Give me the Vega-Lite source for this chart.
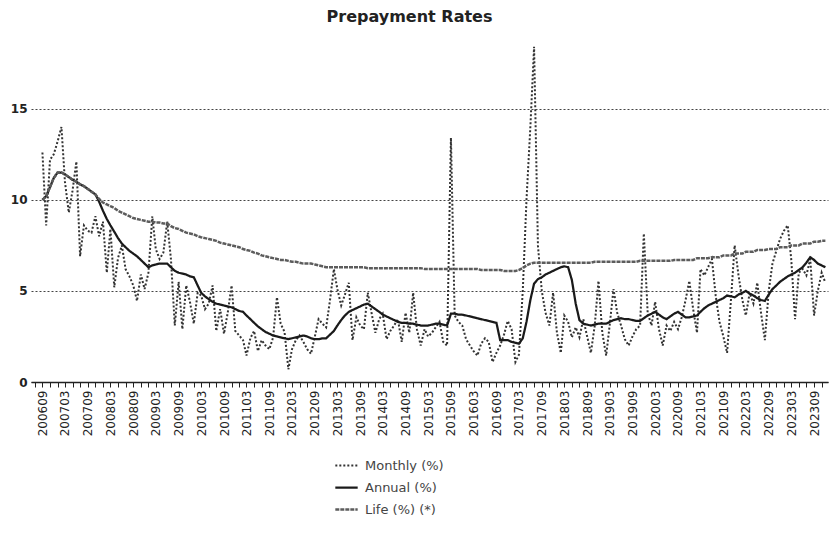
{
"$schema": "https://vega.github.io/schema/vega-lite/v6.json",
"width": 797, "height": 337,
"padding": {"left": 10, "top": 8, "right": 0, "bottom": 0},
"background": "white",
"title": {"text": "Prepayment Rates", "font": "DejaVu Sans", "fontSize": 16, "fontWeight": "bold", "color": "#222", "anchor": "middle", "frame": "group", "offset": 18, "dx": -20},
"data": {"values": [
{"d":"2006-09-01","m":12.6,"a":10.0,"l":10.0},
{"d":"2006-10-01","m":8.6,"a":10.2,"l":10.2},
{"d":"2006-11-01","m":12.2,"a":10.7,"l":10.7},
{"d":"2006-12-01","m":12.5,"a":11.2,"l":11.2},
{"d":"2007-01-01","m":13.2,"a":11.5,"l":11.5},
{"d":"2007-02-01","m":14.0,"a":11.5,"l":11.5},
{"d":"2007-03-01","m":11.0,"a":11.4,"l":11.4},
{"d":"2007-04-01","m":9.3,"a":11.25,"l":11.25},
{"d":"2007-05-01","m":10.5,"a":11.1,"l":11.1},
{"d":"2007-06-01","m":12.1,"a":11.0,"l":11.0},
{"d":"2007-07-01","m":6.9,"a":10.85,"l":10.85},
{"d":"2007-08-01","m":8.6,"a":10.75,"l":10.75},
{"d":"2007-09-01","m":8.3,"a":10.6,"l":10.6},
{"d":"2007-10-01","m":8.2,"a":10.45,"l":10.45},
{"d":"2007-11-01","m":9.1,"a":10.3,"l":10.3},
{"d":"2007-12-01","m":8.0,"a":9.9,"l":10.05},
{"d":"2008-01-01","m":8.8,"a":9.4,"l":9.85},
{"d":"2008-02-01","m":6.0,"a":8.95,"l":9.75},
{"d":"2008-03-01","m":8.4,"a":8.6,"l":9.65},
{"d":"2008-04-01","m":5.2,"a":8.25,"l":9.55},
{"d":"2008-05-01","m":6.8,"a":7.9,"l":9.4},
{"d":"2008-06-01","m":7.5,"a":7.6,"l":9.3},
{"d":"2008-07-01","m":6.2,"a":7.4,"l":9.2},
{"d":"2008-08-01","m":5.8,"a":7.2,"l":9.1},
{"d":"2008-09-01","m":5.3,"a":7.05,"l":9.0},
{"d":"2008-10-01","m":4.45,"a":6.9,"l":8.95},
{"d":"2008-11-01","m":5.9,"a":6.7,"l":8.9},
{"d":"2008-12-01","m":5.1,"a":6.5,"l":8.85},
{"d":"2009-01-01","m":6.0,"a":6.3,"l":8.8},
{"d":"2009-02-01","m":9.1,"a":6.4,"l":8.8},
{"d":"2009-03-01","m":7.3,"a":6.45,"l":8.75},
{"d":"2009-04-01","m":6.75,"a":6.5,"l":8.75},
{"d":"2009-05-01","m":7.1,"a":6.5,"l":8.7},
{"d":"2009-06-01","m":8.8,"a":6.5,"l":8.7},
{"d":"2009-07-01","m":6.75,"a":6.3,"l":8.55},
{"d":"2009-08-01","m":3.1,"a":6.1,"l":8.45},
{"d":"2009-09-01","m":5.5,"a":6.0,"l":8.4},
{"d":"2009-10-01","m":2.9,"a":5.95,"l":8.3},
{"d":"2009-11-01","m":5.3,"a":5.9,"l":8.2},
{"d":"2009-12-01","m":4.4,"a":5.8,"l":8.15},
{"d":"2010-01-01","m":3.2,"a":5.75,"l":8.1},
{"d":"2010-02-01","m":4.9,"a":5.3,"l":8.0},
{"d":"2010-03-01","m":4.75,"a":4.9,"l":7.95},
{"d":"2010-04-01","m":4.0,"a":4.7,"l":7.9},
{"d":"2010-05-01","m":4.3,"a":4.55,"l":7.85},
{"d":"2010-06-01","m":5.3,"a":4.4,"l":7.8},
{"d":"2010-07-01","m":2.8,"a":4.3,"l":7.75},
{"d":"2010-08-01","m":4.0,"a":4.25,"l":7.65},
{"d":"2010-09-01","m":2.65,"a":4.2,"l":7.6},
{"d":"2010-10-01","m":3.8,"a":4.15,"l":7.55},
{"d":"2010-11-01","m":5.3,"a":4.1,"l":7.5},
{"d":"2010-12-01","m":2.8,"a":4.0,"l":7.45},
{"d":"2011-01-01","m":2.55,"a":3.9,"l":7.4},
{"d":"2011-02-01","m":2.3,"a":3.85,"l":7.3},
{"d":"2011-03-01","m":1.45,"a":3.65,"l":7.25},
{"d":"2011-04-01","m":2.4,"a":3.45,"l":7.2},
{"d":"2011-05-01","m":2.8,"a":3.25,"l":7.1},
{"d":"2011-06-01","m":1.7,"a":3.05,"l":7.05},
{"d":"2011-07-01","m":2.3,"a":2.9,"l":6.95},
{"d":"2011-08-01","m":2.0,"a":2.75,"l":6.9},
{"d":"2011-09-01","m":1.8,"a":2.65,"l":6.85},
{"d":"2011-10-01","m":2.45,"a":2.55,"l":6.8},
{"d":"2011-11-01","m":4.65,"a":2.5,"l":6.75},
{"d":"2011-12-01","m":3.2,"a":2.45,"l":6.7},
{"d":"2012-01-01","m":2.75,"a":2.4,"l":6.7},
{"d":"2012-02-01","m":0.7,"a":2.35,"l":6.65},
{"d":"2012-03-01","m":1.8,"a":2.4,"l":6.6},
{"d":"2012-04-01","m":2.3,"a":2.45,"l":6.6},
{"d":"2012-05-01","m":2.55,"a":2.5,"l":6.55},
{"d":"2012-06-01","m":2.2,"a":2.55,"l":6.5},
{"d":"2012-07-01","m":1.8,"a":2.5,"l":6.5},
{"d":"2012-08-01","m":1.55,"a":2.4,"l":6.5},
{"d":"2012-09-01","m":2.5,"a":2.35,"l":6.45},
{"d":"2012-10-01","m":3.45,"a":2.35,"l":6.4},
{"d":"2012-11-01","m":3.2,"a":2.4,"l":6.35},
{"d":"2012-12-01","m":3.0,"a":2.4,"l":6.3},
{"d":"2013-01-01","m":4.5,"a":2.6,"l":6.3},
{"d":"2013-02-01","m":6.2,"a":2.8,"l":6.3},
{"d":"2013-03-01","m":5.1,"a":3.1,"l":6.3},
{"d":"2013-04-01","m":4.2,"a":3.4,"l":6.3},
{"d":"2013-05-01","m":4.8,"a":3.65,"l":6.3},
{"d":"2013-06-01","m":5.45,"a":3.85,"l":6.3},
{"d":"2013-07-01","m":2.3,"a":3.95,"l":6.3},
{"d":"2013-08-01","m":3.55,"a":4.05,"l":6.3},
{"d":"2013-09-01","m":3.1,"a":4.15,"l":6.3},
{"d":"2013-10-01","m":2.9,"a":4.25,"l":6.3},
{"d":"2013-11-01","m":4.9,"a":4.3,"l":6.25},
{"d":"2013-12-01","m":3.8,"a":4.15,"l":6.25},
{"d":"2014-01-01","m":2.7,"a":4.0,"l":6.25},
{"d":"2014-02-01","m":3.45,"a":3.85,"l":6.25},
{"d":"2014-03-01","m":3.75,"a":3.7,"l":6.25},
{"d":"2014-04-01","m":2.35,"a":3.6,"l":6.25},
{"d":"2014-05-01","m":2.8,"a":3.5,"l":6.25},
{"d":"2014-06-01","m":3.1,"a":3.4,"l":6.25},
{"d":"2014-07-01","m":3.45,"a":3.3,"l":6.25},
{"d":"2014-08-01","m":2.2,"a":3.25,"l":6.25},
{"d":"2014-09-01","m":3.8,"a":3.25,"l":6.25},
{"d":"2014-10-01","m":2.7,"a":3.2,"l":6.25},
{"d":"2014-11-01","m":4.9,"a":3.2,"l":6.25},
{"d":"2014-12-01","m":2.9,"a":3.15,"l":6.25},
{"d":"2015-01-01","m":2.0,"a":3.1,"l":6.25},
{"d":"2015-02-01","m":2.9,"a":3.1,"l":6.2},
{"d":"2015-03-01","m":2.5,"a":3.1,"l":6.2},
{"d":"2015-04-01","m":2.7,"a":3.15,"l":6.2},
{"d":"2015-05-01","m":3.0,"a":3.2,"l":6.2},
{"d":"2015-06-01","m":3.3,"a":3.2,"l":6.2},
{"d":"2015-07-01","m":2.2,"a":3.15,"l":6.2},
{"d":"2015-08-01","m":2.0,"a":3.1,"l":6.2},
{"d":"2015-09-01","m":13.4,"a":3.75,"l":6.2},
{"d":"2015-10-01","m":3.65,"a":3.75,"l":6.2},
{"d":"2015-11-01","m":3.3,"a":3.7,"l":6.2},
{"d":"2015-12-01","m":3.1,"a":3.7,"l":6.2},
{"d":"2016-01-01","m":2.35,"a":3.65,"l":6.2},
{"d":"2016-02-01","m":2.0,"a":3.6,"l":6.2},
{"d":"2016-03-01","m":1.7,"a":3.55,"l":6.2},
{"d":"2016-04-01","m":1.45,"a":3.5,"l":6.2},
{"d":"2016-05-01","m":2.1,"a":3.45,"l":6.15},
{"d":"2016-06-01","m":2.4,"a":3.4,"l":6.15},
{"d":"2016-07-01","m":2.2,"a":3.35,"l":6.15},
{"d":"2016-08-01","m":1.1,"a":3.3,"l":6.15},
{"d":"2016-09-01","m":1.6,"a":3.25,"l":6.15},
{"d":"2016-10-01","m":2.0,"a":2.3,"l":6.15},
{"d":"2016-11-01","m":2.6,"a":2.3,"l":6.1},
{"d":"2016-12-01","m":3.35,"a":2.3,"l":6.1},
{"d":"2017-01-01","m":2.9,"a":2.2,"l":6.1},
{"d":"2017-02-01","m":1.1,"a":2.15,"l":6.1},
{"d":"2017-03-01","m":1.5,"a":2.1,"l":6.15},
{"d":"2017-04-01","m":5.0,"a":2.4,"l":6.25},
{"d":"2017-05-01","m":10.0,"a":3.3,"l":6.4},
{"d":"2017-06-01","m":14.0,"a":4.5,"l":6.5},
{"d":"2017-07-01","m":18.4,"a":5.4,"l":6.55},
{"d":"2017-08-01","m":7.5,"a":5.65,"l":6.55},
{"d":"2017-09-01","m":5.0,"a":5.75,"l":6.55},
{"d":"2017-10-01","m":3.8,"a":5.9,"l":6.55},
{"d":"2017-11-01","m":3.1,"a":6.0,"l":6.55},
{"d":"2017-12-01","m":4.9,"a":6.1,"l":6.55},
{"d":"2018-01-01","m":2.7,"a":6.2,"l":6.55},
{"d":"2018-02-01","m":1.6,"a":6.3,"l":6.55},
{"d":"2018-03-01","m":3.65,"a":6.35,"l":6.55},
{"d":"2018-04-01","m":3.3,"a":6.3,"l":6.55},
{"d":"2018-05-01","m":2.45,"a":5.6,"l":6.55},
{"d":"2018-06-01","m":3.0,"a":4.3,"l":6.55},
{"d":"2018-07-01","m":2.45,"a":3.4,"l":6.55},
{"d":"2018-08-01","m":3.45,"a":3.2,"l":6.55},
{"d":"2018-09-01","m":2.5,"a":3.15,"l":6.55},
{"d":"2018-10-01","m":1.6,"a":3.1,"l":6.55},
{"d":"2018-11-01","m":3.1,"a":3.15,"l":6.6},
{"d":"2018-12-01","m":5.55,"a":3.2,"l":6.6},
{"d":"2019-01-01","m":2.7,"a":3.2,"l":6.6},
{"d":"2019-02-01","m":1.45,"a":3.2,"l":6.6},
{"d":"2019-03-01","m":3.1,"a":3.3,"l":6.6},
{"d":"2019-04-01","m":5.1,"a":3.4,"l":6.6},
{"d":"2019-05-01","m":3.8,"a":3.45,"l":6.6},
{"d":"2019-06-01","m":3.1,"a":3.5,"l":6.6},
{"d":"2019-07-01","m":2.35,"a":3.45,"l":6.6},
{"d":"2019-08-01","m":2.0,"a":3.45,"l":6.6},
{"d":"2019-09-01","m":2.5,"a":3.4,"l":6.6},
{"d":"2019-10-01","m":2.9,"a":3.35,"l":6.6},
{"d":"2019-11-01","m":3.1,"a":3.35,"l":6.65},
{"d":"2019-12-01","m":8.15,"a":3.5,"l":6.65},
{"d":"2020-01-01","m":3.8,"a":3.65,"l":6.65},
{"d":"2020-02-01","m":3.1,"a":3.75,"l":6.65},
{"d":"2020-03-01","m":4.4,"a":3.85,"l":6.65},
{"d":"2020-04-01","m":2.9,"a":3.7,"l":6.65},
{"d":"2020-05-01","m":2.0,"a":3.55,"l":6.65},
{"d":"2020-06-01","m":3.1,"a":3.45,"l":6.65},
{"d":"2020-07-01","m":2.8,"a":3.6,"l":6.65},
{"d":"2020-08-01","m":3.3,"a":3.75,"l":6.7},
{"d":"2020-09-01","m":2.9,"a":3.85,"l":6.7},
{"d":"2020-10-01","m":3.55,"a":3.7,"l":6.7},
{"d":"2020-11-01","m":4.5,"a":3.55,"l":6.7},
{"d":"2020-12-01","m":5.55,"a":3.55,"l":6.7},
{"d":"2021-01-01","m":4.0,"a":3.6,"l":6.7},
{"d":"2021-02-01","m":2.7,"a":3.65,"l":6.8},
{"d":"2021-03-01","m":6.2,"a":3.85,"l":6.8},
{"d":"2021-04-01","m":5.85,"a":4.05,"l":6.8},
{"d":"2021-05-01","m":6.3,"a":4.2,"l":6.8},
{"d":"2021-06-01","m":6.75,"a":4.3,"l":6.85},
{"d":"2021-07-01","m":4.75,"a":4.4,"l":6.85},
{"d":"2021-08-01","m":3.3,"a":4.5,"l":6.85},
{"d":"2021-09-01","m":2.5,"a":4.6,"l":6.95},
{"d":"2021-10-01","m":1.6,"a":4.75,"l":6.95},
{"d":"2021-11-01","m":4.5,"a":4.7,"l":6.95},
{"d":"2021-12-01","m":7.5,"a":4.65,"l":7.05},
{"d":"2022-01-01","m":5.85,"a":4.8,"l":7.05},
{"d":"2022-02-01","m":4.5,"a":4.9,"l":7.05},
{"d":"2022-03-01","m":3.65,"a":5.0,"l":7.15},
{"d":"2022-04-01","m":4.9,"a":4.85,"l":7.15},
{"d":"2022-05-01","m":4.3,"a":4.75,"l":7.15},
{"d":"2022-06-01","m":5.45,"a":4.6,"l":7.25},
{"d":"2022-07-01","m":3.8,"a":4.5,"l":7.25},
{"d":"2022-08-01","m":2.3,"a":4.45,"l":7.25},
{"d":"2022-09-01","m":5.0,"a":4.8,"l":7.3},
{"d":"2022-10-01","m":6.5,"a":5.1,"l":7.3},
{"d":"2022-11-01","m":7.2,"a":5.3,"l":7.3},
{"d":"2022-12-01","m":7.85,"a":5.5,"l":7.4},
{"d":"2023-01-01","m":8.3,"a":5.65,"l":7.4},
{"d":"2023-02-01","m":8.6,"a":5.8,"l":7.4},
{"d":"2023-03-01","m":6.75,"a":5.9,"l":7.5},
{"d":"2023-04-01","m":3.45,"a":6.0,"l":7.5},
{"d":"2023-05-01","m":6.0,"a":6.15,"l":7.5},
{"d":"2023-06-01","m":6.2,"a":6.3,"l":7.6},
{"d":"2023-07-01","m":5.85,"a":6.55,"l":7.6},
{"d":"2023-08-01","m":6.75,"a":6.85,"l":7.6},
{"d":"2023-09-01","m":3.65,"a":6.7,"l":7.7},
{"d":"2023-10-01","m":5.0,"a":6.5,"l":7.7},
{"d":"2023-11-01","m":6.0,"a":6.4,"l":7.75},
{"d":"2023-12-01","m":5.45,"a":6.3,"l":7.75}
]},
"transform": [{"fold": ["m", "a", "l"], "as": ["s", "v"]}],
"mark": {"type": "line", "interpolate": "linear", "strokeCap": "butt"},
"encoding": {
  "x": {"field": "d", "type": "temporal",
    "scale": {"type": "utc", "domain": [{"year": 2006, "month": 6, "date": 1, "utc": true}, {"year": 2023, "month": 12, "date": 22, "utc": true}]},
    "axis": {"title": null, "grid": false, "tickCount": {"interval": "month", "step": 2},
      "labelExpr": "utcmonth(datum.value) % 6 == 2 ? utcFormat(datum.value, '%Y%m') : ''",
      "labelAngle": -90, "labelFont": "DejaVu Sans", "labelFontSize": 12, "labelColor": "#222",
      "labelOverlap": false, "labelFlush": false, "labelBound": false, "labelPadding": 3,
      "domainColor": "#222", "domainWidth": 1.5, "tickColor": "#222", "tickSize": 5, "tickWidth": 1}},
  "y": {"field": "v", "type": "quantitative",
    "scale": {"domain": [0, 18.5], "nice": false, "zero": true},
    "axis": {"title": null, "values": [0, 5, 10, 15], "grid": true, "gridDash": [2, 2], "gridColor": "#444", "gridWidth": 1,
      "domain": false, "ticks": false, "labelFont": "DejaVu Sans", "labelFontSize": 12, "labelFontWeight": "bold", "labelColor": "#222", "labelPadding": 4}},
  "color": {"field": "s", "type": "nominal",
    "scale": {"domain": ["m", "a", "l"], "range": ["#333333", "#1a1a1a", "#5c5c5c"]},
    "legend": {"orient": "none", "legendX": 303, "legendY": 408, "direction": "vertical", "title": null,
      "labelExpr": "datum.label == 'm' ? 'Monthly (%)' : datum.label == 'a' ? 'Annual (%)' : 'Life (%) (*)'",
      "labelFont": "DejaVu Sans", "labelFontSize": 13, "labelColor": "#444", "symbolType": "stroke", "symbolSize": 500, "rowPadding": 2, "labelOffset": 6}},
  "strokeDash": {"field": "s", "type": "nominal",
    "scale": {"domain": ["m", "a", "l"], "range": [[2, 2], [1, 0], [4, 1]]},
    "legend": {"orient": "none", "legendX": 303, "legendY": 408, "direction": "vertical", "title": null,
      "labelExpr": "datum.label == 'm' ? 'Monthly (%)' : datum.label == 'a' ? 'Annual (%)' : 'Life (%) (*)'",
      "labelFont": "DejaVu Sans", "labelFontSize": 13, "labelColor": "#444", "symbolType": "stroke", "symbolSize": 500, "rowPadding": 2, "labelOffset": 6}},
  "strokeWidth": {"field": "s", "type": "nominal",
    "scale": {"domain": ["m", "a", "l"], "range": [2, 2.5, 3]},
    "legend": {"orient": "none", "legendX": 303, "legendY": 408, "direction": "vertical", "title": null,
      "labelExpr": "datum.label == 'm' ? 'Monthly (%)' : datum.label == 'a' ? 'Annual (%)' : 'Life (%) (*)'",
      "labelFont": "DejaVu Sans", "labelFontSize": 13, "labelColor": "#444", "symbolType": "stroke", "symbolSize": 500, "rowPadding": 2, "labelOffset": 6}}
},
"config": {"view": {"stroke": null}}
}
